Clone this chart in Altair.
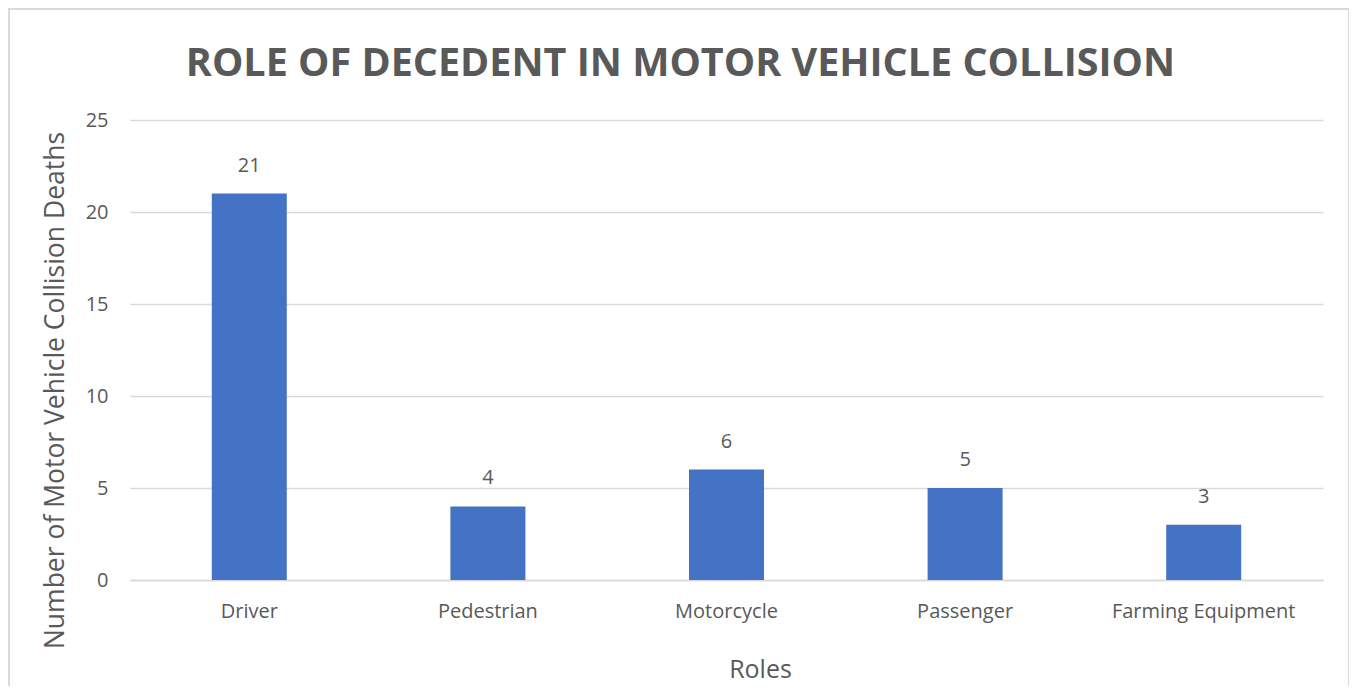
import altair as alt
import pandas as pd

roles = ["Driver", "Pedestrian", "Motorcycle", "Passenger", "Farming Equipment"]
deaths = [21, 4, 6, 5, 3]

df = pd.DataFrame({"Role": roles, "Deaths": deaths})

GRAY = "#595959"
FONT = "Open Sans"

base = alt.Chart(df)

bars = base.mark_bar(size=75, color="#4472C4").encode(
    x=alt.X(
        "Role:N",
        sort=roles,
        title="Roles",
        axis=alt.Axis(
            labelAngle=0,
            labelFontSize=20,
            labelColor=GRAY,
            labelFont=FONT,
            labelPadding=21,
            labelLimit=400,
            titleFontSize=25,
            titleColor=GRAY,
            titleFont=FONT,
            titleFontWeight="normal",
            titlePadding=36,
            titleX=630,
            ticks=False,
            domain=True,
            domainColor="#d9d9d9",
            domainWidth=1.5,
        ),
    ),
    y=alt.Y(
        "Deaths:Q",
        title="Number of Motor Vehicle Collision Deaths",
        scale=alt.Scale(domain=[0, 25], nice=False),
        axis=alt.Axis(
            values=[0, 5, 10, 15, 20, 25],
            labelFontSize=20,
            labelColor=GRAY,
            labelFont=FONT,
            labelPadding=22,
            titleFontSize=26.5,
            titleColor=GRAY,
            titleFont=FONT,
            titleFontWeight="normal",
            titlePadding=16,
            titleY=270,
            ticks=False,
            domain=False,
            grid=True,
            gridColor="#d9d9d9",
            gridWidth=1.5,
        ),
    ),
)

labels = base.mark_text(dy=-28, fontSize=20, color=GRAY, font=FONT).encode(
    x=alt.X("Role:N", sort=roles),
    y=alt.Y("Deaths:Q"),
    text=alt.Text("Deaths:Q"),
)

border = alt.Chart(df).mark_rect(
    fill=None, stroke="#d9d9d9", strokeWidth=2, clip=False
).encode(
    x=alt.value(-121),
    x2=alt.value(1219),
    y=alt.value(-111),
    y2=alt.value(700),
)

chart = (
    alt.layer(border, bars, labels)
    .properties(
        width=1193,
        height=460,
        background="white",
        autosize=alt.AutoSizeParams(type="none"),
        padding={"left": 122, "top": 112, "right": 26, "bottom": 106},
        title=alt.TitleParams(
            "ROLE OF DECEDENT IN MOTOR VEHICLE COLLISION",
            fontSize=39.5,
            font=FONT,
            fontWeight="bold",
            color=GRAY,
            anchor="middle",
            dx=-46,
            offset=-76,
        ),
    )
    .configure_view(stroke="transparent", strokeWidth=0)
)

chart.save("out.html", embed_options={"renderer": "svg", "actions": False})
